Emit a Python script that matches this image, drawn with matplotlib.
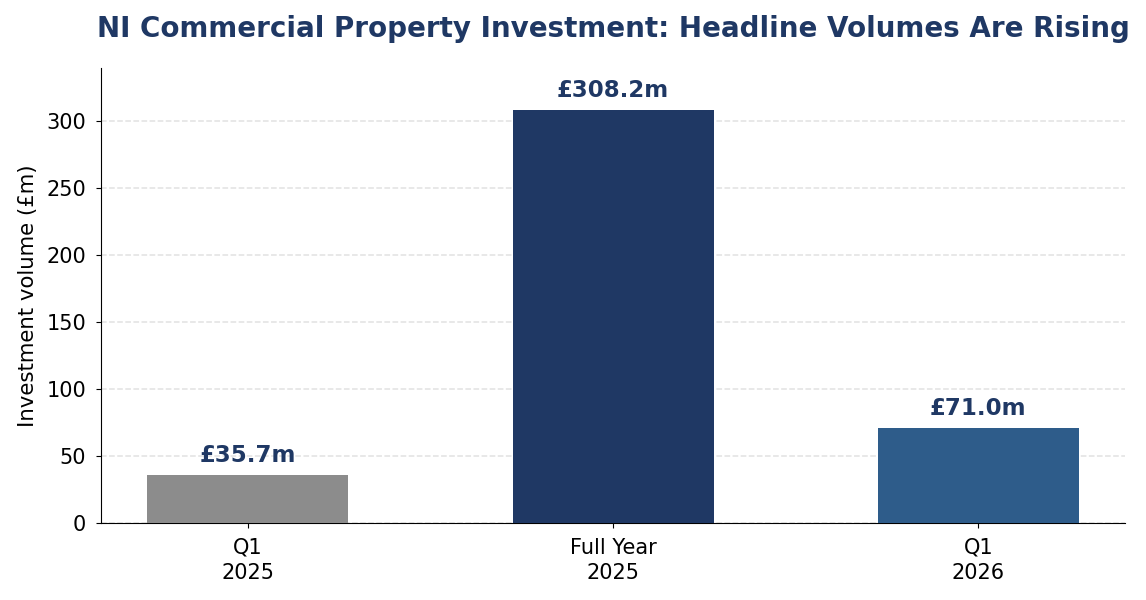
import matplotlib
matplotlib.use('Agg')
import matplotlib.pyplot as plt

# data
periods = ['Q1\n2025', 'Full Year\n2025', 'Q1\n2026']
volumes = [35.7, 308.2, 71.0]
bar_colours = ['#8c8c8c', '#1f3864', '#2e5c8a']

fig, ax = plt.subplots(figsize=(11.46, 6), dpi=100)
fig.subplots_adjust(left=0.088, right=0.982, top=0.887, bottom=0.128)

x = list(range(len(periods)))
bars = ax.bar(x, volumes, width=0.55, color=bar_colours, zorder=3)

for b, v in zip(bars, volumes):
    ax.text(b.get_x() + b.get_width() / 2, v + max(volumes) * 0.02, f'£{v:.1f}m',
            ha='center', va='bottom', fontsize=16.5, fontweight='bold', color='#1f3864')

ax.set_xticks(x)
ax.set_xticklabels(periods, fontsize=15, linespacing=1.3)
ax.tick_params(axis='both', labelsize=15, pad=7)
ax.set_ylim(0, 340)
ax.set_ylabel('Investment volume (£m)', fontsize=15.3, labelpad=6)
ax.set_title('NI Commercial Property Investment: Headline Volumes Are Rising',
             fontsize=20, fontweight='bold', color='#1f3864', pad=22)

ax.grid(axis='y', linestyle='--', color='#e2e2e2', linewidth=1.1, zorder=0)
ax.spines['top'].set_visible(False)
ax.spines['right'].set_visible(False)

fig.savefig('out.png', dpi=100)
